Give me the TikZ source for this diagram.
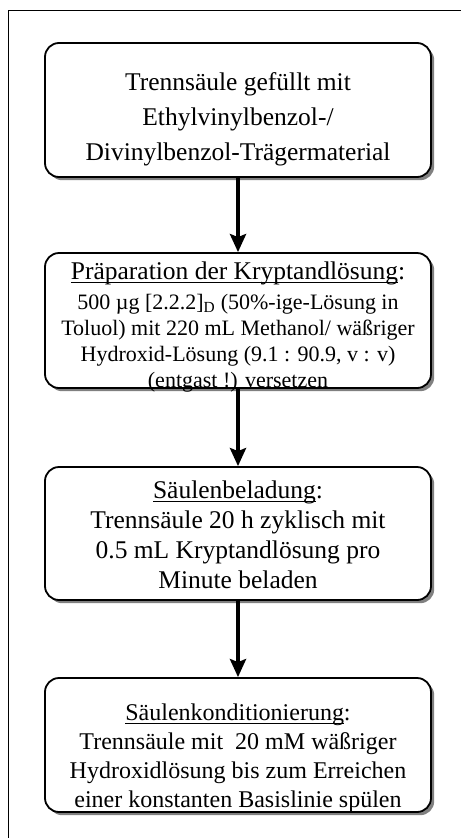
\documentclass[tikz,border=0pt]{standalone}
\usepackage{fontspec}
\setmainfont{Liberation Serif}
\usetikzlibrary{arrows.meta,shadows}
% underline at a fixed depth, crossing the descenders
\newsavebox{\hdbox}
\newcommand{\hd}[1]{\sbox{\hdbox}{#1}\rlap{\rule[-3.8pt]{\wd\hdbox}{1.1pt}}\usebox{\hdbox}}
\newcommand{\fst}{\rule{0pt}{20pt}}
\tikzset{
  stepbox/.style={draw=black, line width=1.8pt, rounded corners=14pt, fill=white,
    minimum width=386pt, inner sep=0pt,
    drop shadow={shadow xshift=3.2pt, shadow yshift=-3.2pt, fill=black!50, opacity=1}},
  steptext/.style={anchor=north, align=center, inner sep=0pt},
  conn/.style={line width=4.5pt, -{Stealth[length=18pt,width=16pt,inset=3pt]}},
  frame/.style={line width=1pt}
}
\begin{document}
\begin{tikzpicture}[x=1pt,y=-1pt]
  \useasboundingbox (0,0) rectangle (461,838);
  % outer frame
  \draw[frame] (8,838) -- (8,10) -- (461,10);

  % process boxes
  \node[stepbox, minimum height=134pt] (b1) at (238,110) {};
  \node[stepbox, minimum height=135pt] (b2) at (238,320.5) {};
  \node[stepbox, minimum height=133pt] (b3) at (238,533.5) {};
  \node[stepbox, minimum height=134pt] (b4) at (238,745) {};

  % box texts
  \node[steptext, font=\fontsize{25.5}{35}\selectfont] (t1) at (238,70)
    {\fst Trennsäule gefüllt mit\\Ethylvinylbenzol-/\\Divinylbenzol-Trägermaterial};
  \node[steptext, font=\fontsize{22}{26}\selectfont] (t2) at (238,259)
    {{\fontsize{25.5}{30}\selectfont\fst\hd{Präparation der Kryptandlösung}:}\\[4pt]
     500 µg [2.2.2]\textsubscript{D} (50\%-ige-Lösung in\\
     Toluol) mit 220 mL Methanol/ wäßriger\\
     Hydroxid-Lösung (9.1 : 90.9, v : v)\\
     (entgast !) versetzen};
  \node[steptext, font=\fontsize{25.5}{30}\selectfont] (t3) at (238,478)
    {\fst\hd{Säulenbeladung}:\\Trennsäule 20 h zyklisch mit\\0.5 mL Kryptandlösung pro\\Minute beladen};
  \node[steptext, font=\fontsize{24}{29}\selectfont] (t4) at (238,700)
    {\fst\hd{Säulenkonditionierung}:\\Trennsäule mit \ 20 mM wäßriger\\Hydroxidlösung bis zum Erreichen\\einer konstanten Basislinie spülen};

  % connectors
  \draw[conn] (b1.south) -- (b2.north);
  \draw[conn] (b2.south) -- (b3.north);
  \draw[conn] (b3.south) -- (b4.north);
\end{tikzpicture}
\end{document}
